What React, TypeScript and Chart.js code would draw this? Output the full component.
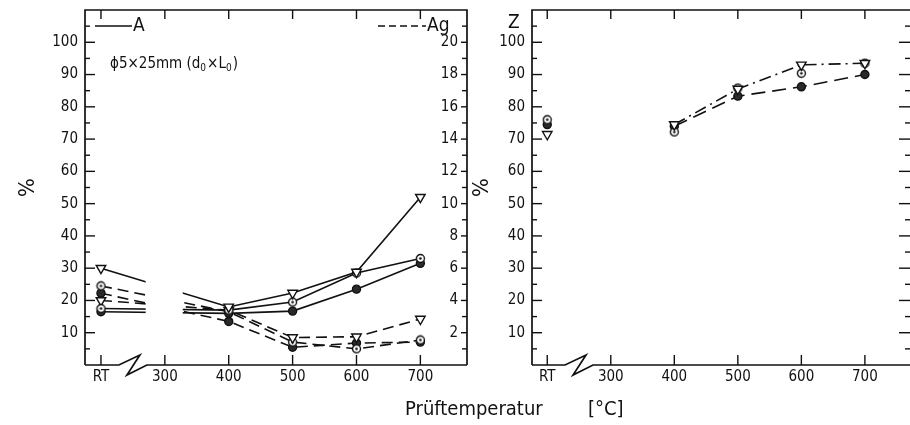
import React, { useEffect, useRef } from 'react';
import { Chart, registerables } from 'chart.js';

Chart.register(...registerables);

const FONT = "'Liberation Sans Narrow', 'DejaVu Sans Condensed', 'Roboto Condensed', Roboto, sans-serif";
const INK = '#111';

// ---------- data ----------
const RT_POS = 200; // axis position used for "RT" (room temperature)
const TEMPS = [RT_POS, 400, 500, 600, 700];
const X_TICK_VALUES = [RT_POS, 300, 400, 500, 600, 700];
const X_TICK_LABELS = ['RT', '300', '400', '500', '600', '700'];
const PCT_TICKS = [10, 20, 30, 40, 50, 60, 70, 80, 90, 100];
const AG_TICKS = [2, 4, 6, 8, 10, 12, 14, 16, 18, 20];

// A (%), left axis, solid
const A_TRI = [30, 18, 22.3, 28.8, 52];
const A_OPEN = [17.5, 17, 19.5, 28.5, 33];
const A_FILLED = [16.5, 16, 16.7, 23.5, 31.5];
// Ag (%), right axis, dashed
const AG_TRI = [4.0, 3.4, 1.7, 1.75, 2.85];
const AG_OPEN = [4.9, 3.3, 1.42, 1.0, 1.55];
const AG_FILLED = [4.45, 2.7, 1.1, 1.36, 1.42];
// Z (%), right panel
const Z_TRI = [71.5, 74.5, 85.5, 93, 93.5];
const Z_OPEN = [76, 72.2, 85.8, 90.4, 93.5];
const Z_FILLED = [74.5, 74, 83.3, 86.2, 90];

// axis break / line interruption between RT and 300
const BREAK_AT = 250;
const GAP_FROM = 270;
const GAP_TO = 328;

type Marker = 'tri' | 'open' | 'filled';

function dotCircle(): HTMLCanvasElement {
  const c = document.createElement('canvas');
  c.width = 11;
  c.height = 11;
  const g = c.getContext('2d')!;
  g.fillStyle = '#fff';
  g.beginPath();
  g.arc(5.5, 5.5, 4, 0, Math.PI * 2);
  g.fill();
  g.lineWidth = 1.4;
  g.strokeStyle = INK;
  g.stroke();
  g.fillStyle = INK;
  g.beginPath();
  g.arc(5.5, 5.5, 1.3, 0, Math.PI * 2);
  g.fill();
  return c;
}

function series(label: string, values: number[], yAxisID: string, marker: Marker, dash: number[], extra: any = {}) {
  const ds: any = {
    label,
    data: values.map((v, i) => ({ x: TEMPS[i], y: v })),
    xAxisID: 'x',
    yAxisID,
    borderColor: INK,
    borderWidth: 1.6,
    borderDash: dash,
    tension: 0,
    fill: false,
    pointBorderColor: INK,
    pointBorderWidth: 1.4,
    pointHoverRadius: 0,
  };
  if (marker === 'tri') {
    Object.assign(ds, { pointStyle: 'triangle', pointRotation: 180, pointRadius: 5.5, pointBackgroundColor: '#fff' });
  } else if (marker === 'open') {
    Object.assign(ds, { pointStyle: dotCircle(), pointRadius: 4.5, pointBackgroundColor: '#fff' });
  } else {
    Object.assign(ds, { pointStyle: 'circle', pointRadius: 4, pointBackgroundColor: '#2a2a2a' });
  }
  return Object.assign(ds, extra);
}

function drawFrame(chart: any, kind: 'left' | 'right') {
  const { ctx, chartArea } = chart;
  const { left: L, right: R, top: T, bottom: B } = chartArea;
  const xs = chart.scales.x;
  const ys = chart.scales[kind === 'left' ? 'yA' : 'y'];
  ctx.save();
  ctx.strokeStyle = INK;
  ctx.fillStyle = INK;
  ctx.lineWidth = 1.7;
  ctx.lineCap = 'butt';
  ctx.lineJoin = 'miter';
  // left, top, (right)
  ctx.beginPath();
  ctx.moveTo(L, B);
  ctx.lineTo(L, T);
  ctx.lineTo(R, T);
  if (kind === 'left') ctx.lineTo(R, B);
  ctx.stroke();
  // bottom with break
  const bc = xs.getPixelForValue(BREAK_AT);
  ctx.beginPath();
  ctx.moveTo(L, B);
  ctx.lineTo(bc - 14, B);
  ctx.lineTo(bc + 7, B - 10);
  ctx.lineTo(bc - 6, B + 10);
  ctx.lineTo(bc + 14, B);
  ctx.lineTo(R + (kind === 'left' ? 0 : 2), B);
  ctx.stroke();
  // x ticks (bottom up, top down)
  ctx.lineWidth = 1.4;
  X_TICK_VALUES.forEach((v) => {
    const px = xs.getPixelForValue(v);
    ctx.beginPath();
    ctx.moveTo(px, B);
    ctx.lineTo(px, B - 10);
    ctx.moveTo(px, T);
    ctx.lineTo(px, T + 9);
    ctx.stroke();
  });
  // left y ticks
  for (let v = 5; v <= 105; v += 5) {
    const py = ys.getPixelForValue(v);
    const len = v % 10 === 0 ? 10 : 5;
    ctx.beginPath();
    ctx.moveTo(L, py);
    ctx.lineTo(L + len, py);
    ctx.stroke();
  }
  if (kind === 'left') {
    const ag = chart.scales.yAg;
    for (let v = 1; v <= 21; v += 1) {
      const py = ag.getPixelForValue(v);
      ctx.beginPath();
      ctx.moveTo(R, py);
      ctx.lineTo(R - (v % 2 === 0 ? 6 : 5), py);
      ctx.stroke();
    }
    ctx.font = `15px ${FONT}`;
    ctx.textAlign = 'right';
    ctx.textBaseline = 'middle';
    AG_TICKS.forEach((v) => ctx.fillText(String(v), R - 9, ag.getPixelForValue(v)));
    // legend marks
    ctx.lineWidth = 1.5;
    ctx.beginPath();
    ctx.moveTo(95, 26);
    ctx.lineTo(132, 26);
    ctx.stroke();
    ctx.setLineDash([7, 4]);
    ctx.beginPath();
    ctx.moveTo(378, 26);
    ctx.lineTo(426, 26);
    ctx.stroke();
    ctx.setLineDash([]);
    ctx.textAlign = 'left';
    ctx.textBaseline = 'alphabetic';
    ctx.font = `19px ${FONT}`;
    ctx.fillText('A', 133, 31);
    ctx.fillText('Ag', 427, 31);
    // specimen note with subscripts
    let x = 110;
    const base = 68;
    const parts: [string, boolean][] = [['ϕ5×25mm (d', false], ['0', true], ['×L', false], ['0', true], [')', false]];
    parts.forEach(([t, sub]) => {
      ctx.font = sub ? `10px ${FONT}` : `15px ${FONT}`;
      ctx.fillText(t, x, sub ? base + 3 : base);
      x += ctx.measureText(t).width + (sub ? 1 : 0);
    });
  } else {
    for (let v = 5; v <= 105; v += 5) {
      const py = ys.getPixelForValue(v);
      ctx.beginPath();
      ctx.moveTo(R, py);
      ctx.lineTo(R - (v % 10 === 0 ? 11 : 5), py);
      ctx.stroke();
    }
    ctx.font = `19px ${FONT}`;
    ctx.textAlign = 'left';
    ctx.textBaseline = 'alphabetic';
    ctx.fillText('Z', L - 24, 28);
  }
  ctx.restore();
}

function makePlugin(kind: 'left' | 'right') {
  return {
    id: 'decor_' + kind,
    afterDatasetsDraw(chart: any) {
      if (kind !== 'left') return;
      const { ctx, chartArea } = chart;
      const xs = chart.scales.x;
      const x0 = xs.getPixelForValue(GAP_FROM);
      const x1 = xs.getPixelForValue(GAP_TO);
      ctx.save();
      ctx.fillStyle = '#fff';
      ctx.fillRect(x0, chartArea.top + 2, x1 - x0, chartArea.bottom - chartArea.top - 4);
      ctx.restore();
    },
    afterDraw(chart: any) {
      drawFrame(chart, kind);
    },
  };
}

function xScale(min: number, max: number) {
  return {
    type: 'linear',
    position: 'bottom',
    min,
    max,
    grid: { display: false, drawTicks: false },
    border: { display: false },
    afterBuildTicks: (s: any) => {
      s.ticks = X_TICK_VALUES.map((v) => ({ value: v }));
    },
    afterFit: (s: any) => {
      s.height = 60;
      s.paddingLeft = 0;
      s.paddingRight = 0;
    },
    ticks: {
      autoSkip: false,
      maxRotation: 0,
      padding: 3,
      color: INK,
      font: { family: FONT, size: 15 },
      callback: (v: any) => X_TICK_LABELS[X_TICK_VALUES.indexOf(Number(v))] ?? '',
    },
  };
}

function pctScale(width: number, titlePad: number) {
  return {
    type: 'linear',
    position: 'left',
    min: 0,
    max: 110,
    grid: { display: false, drawTicks: false },
    border: { display: false },
    afterBuildTicks: (s: any) => {
      s.ticks = PCT_TICKS.map((v) => ({ value: v }));
    },
    afterFit: (s: any) => {
      s.width = width;
      s.paddingTop = 0;
      s.paddingBottom = 0;
    },
    ticks: { padding: 7, color: INK, font: { family: FONT, size: 15 } },
    title: {
      display: true,
      text: '%',
      color: INK,
      font: { family: FONT, size: 22, lineHeight: 1 },
      padding: { top: titlePad, bottom: 0 },
    },
  };
}

function LeftPanel() {
  const ref = useRef<HTMLCanvasElement>(null);
  useEffect(() => {
    const chart = new Chart(ref.current!, {
      type: 'line',
      data: {
        datasets: [
          series('A ▽', A_TRI, 'yA', 'tri', []),
          series('A ○', A_OPEN, 'yA', 'open', []),
          series('A ●', A_FILLED, 'yA', 'filled', []),
          series('Ag ▽', AG_TRI, 'yAg', 'tri', [11, 6]),
          series('Ag ○', AG_OPEN, 'yAg', 'open', [11, 6]),
          series('Ag ●', AG_FILLED, 'yAg', 'filled', [11, 6]),
        ],
      },
      options: {
        responsive: false,
        animation: false,
        events: [],
        layout: { autoPadding: false, padding: { left: 0, right: 3, top: 10, bottom: 0 } },
        plugins: { legend: { display: false }, tooltip: { enabled: false } },
        scales: {
          x: xScale(175, 773),
          yA: pctScale(85, 17),
          yAg: {
            type: 'linear',
            position: 'right',
            min: 0,
            max: 22,
            grid: { display: false, drawTicks: false },
            border: { display: false },
            ticks: { display: false },
            afterFit: (s: any) => {
              s.width = 0;
              s.paddingTop = 0;
              s.paddingBottom = 0;
            },
          },
        },
      } as any,
      plugins: [makePlugin('left')],
    });
    return () => chart.destroy();
  }, []);
  return <canvas ref={ref} width={470} height={425} style={{ position: 'absolute', left: 0, top: 0 }} />;
}

function RightPanel() {
  const ref = useRef<HTMLCanvasElement>(null);
  useEffect(() => {
    const chart = new Chart(ref.current!, {
      type: 'line',
      data: {
        datasets: [
          series('Z ▽', Z_TRI, 'y', 'tri', [12, 5, 2, 5], {
            segment: { borderColor: (c: any) => (c.p0DataIndex === 0 ? 'rgba(0,0,0,0)' : undefined) },
          }),
          series('Z ○', Z_OPEN, 'y', 'open', [], { showLine: false }),
          series('Z ●', Z_FILLED, 'y', 'filled', [14, 7], {
            segment: { borderColor: (c: any) => (c.p0DataIndex === 0 ? 'rgba(0,0,0,0)' : undefined) },
          }),
        ],
      },
      options: {
        responsive: false,
        animation: false,
        events: [],
        layout: { autoPadding: false, padding: { left: 0, right: 0, top: 10, bottom: 0 } },
        plugins: { legend: { display: false }, tooltip: { enabled: false } },
        scales: {
          x: xScale(176, 771),
          y: pctScale(62, 1),
        },
      } as any,
      plugins: [makePlugin('right')],
    });
    return () => chart.destroy();
  }, []);
  return <canvas ref={ref} width={440} height={425} style={{ position: 'absolute', left: 470, top: 0 }} />;
}

export default function App() {
  return (
    <div style={{ position: 'absolute', left: 0, top: 0, width: 910, height: 425, background: '#fff', overflow: 'hidden' }}>
      <LeftPanel />
      <RightPanel />
      <div style={{ position: 'absolute', left: 405, top: 397, fontFamily: FONT, fontSize: 20, lineHeight: '22px', color: INK, whiteSpace: 'nowrap' }}>
        Prüftemperatur
      </div>
      <div style={{ position: 'absolute', left: 588, top: 397, fontFamily: FONT, fontSize: 20, lineHeight: '22px', color: INK, whiteSpace: 'nowrap' }}>
        [°C]
      </div>
    </div>
  );
}
